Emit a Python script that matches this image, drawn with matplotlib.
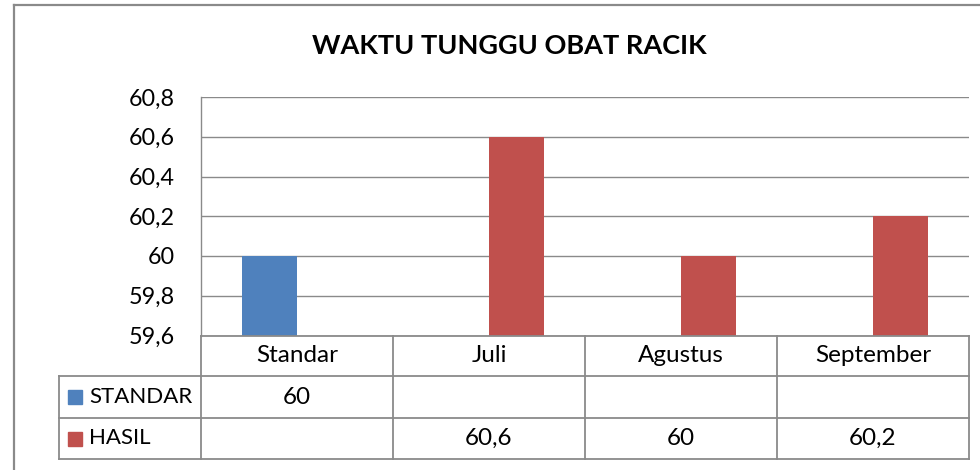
import matplotlib
matplotlib.use('Agg')
import matplotlib.pyplot as plt
import matplotlib.transforms as mtrans
from matplotlib.lines import Line2D
from matplotlib.patches import Rectangle
import numpy as np

# data
kategori = ['Standar', 'Juli', 'Agustus', 'September']
standar = [60, None, None, None]
hasil = [None, 60.6, 60, 60.2]
nama_seri = ['STANDAR', 'HASIL']
warna = ['#4F81BD', '#C0504D']
yticks = [59.6, 59.8, 60.0, 60.2, 60.4, 60.6, 60.8]

plt.rcParams['font.family'] = ['Lato', 'DejaVu Sans']

W, H = 980, 470
abu = '#8a8a8a'


def fx(x):
    return x / W


def fy(y):
    return 1 - y / H


def fmt(v):
    s = ('%.1f' % v).rstrip('0').rstrip('.')
    return s.replace('.', ',')


fig = plt.figure(figsize=(W / 100, H / 100), dpi=100)
ax = fig.add_axes([fx(201), fy(335.5), fx(969) - fx(201), fy(97) - fy(335.5)])

x = np.arange(len(kategori))
lebar = 0.287
semua = [standar, hasil]
for i, (seri, c) in enumerate(zip(semua, warna)):
    idx = [k for k, v in enumerate(seri) if v is not None]
    ax.bar(x[idx] + (i - 0.5) * lebar, [seri[k] for k in idx], width=lebar,
           color=c, zorder=3)

ax.set_xlim(-0.5, len(kategori) - 0.5)
ax.set_ylim(59.6, 60.8)
ax.set_yticks(yticks)
ax.set_yticklabels([fmt(v) for v in yticks])
ax.yaxis.grid(True, color=abu, lw=1.0)
ax.set_axisbelow(True)
ax.set_xticks([])
ax.tick_params(axis='y', length=0, pad=19, labelsize=16.8)
for s in ['top', 'right', 'bottom']:
    ax.spines[s].set_visible(False)
ax.spines['left'].set_color(abu)
ax.spines['left'].set_linewidth(1.0)

# data table under the chart
tr = mtrans.blended_transform_factory(ax.transData, fig.transFigure)
baris = [335.5, 376, 418, 459]
tepi = np.arange(-0.5, len(kategori), 1.0)
for e in tepi:
    fig.add_artist(Line2D([e, e], [fy(baris[0]), fy(baris[-1])], transform=tr,
                          color=abu, lw=1.3))
fig.add_artist(Line2D([tepi[0], tepi[-1]], [fy(baris[0])] * 2, transform=tr,
                      color=abu, lw=1.3))
for b in baris[1:]:
    fig.add_artist(Line2D([fx(59), fx(969)], [fy(b)] * 2, color=abu, lw=1.3))
fig.add_artist(Line2D([fx(59)] * 2, [fy(baris[1]), fy(baris[-1])], color=abu, lw=1.3))

for k, kat in enumerate(kategori):
    fig.text(k, fy((baris[0] + baris[1]) / 2), kat, transform=tr,
             ha='center', va='center', fontsize=17.5)

for r, (seri, nm, c) in enumerate(zip(semua, nama_seri, warna)):
    yc = (baris[r + 1] + baris[r + 2]) / 2
    fig.add_artist(Rectangle((fx(68), fy(yc + 7)), fx(14), 14 / H,
                             transform=fig.transFigure, color=c))
    fig.text(fx(89), fy(yc), nm, ha='left', va='center', fontsize=16)
    for k, v in enumerate(seri):
        if v is not None:
            fig.text(k, fy(yc), fmt(v), transform=tr, ha='center',
                     va='center', fontsize=17.5)

# chart frame
fig.add_artist(Line2D([fx(14), fx(14)], [fy(5), 0], color=abu, lw=1.6))
fig.add_artist(Line2D([fx(14), 1], [fy(5), fy(5)], color=abu, lw=1.6))

fig.text(fx(509), fy(46), 'WAKTU TUNGGU OBAT RACIK', ha='center',
         va='center', fontsize=19.5, fontweight='bold')

fig.savefig('out.png', dpi=100)
